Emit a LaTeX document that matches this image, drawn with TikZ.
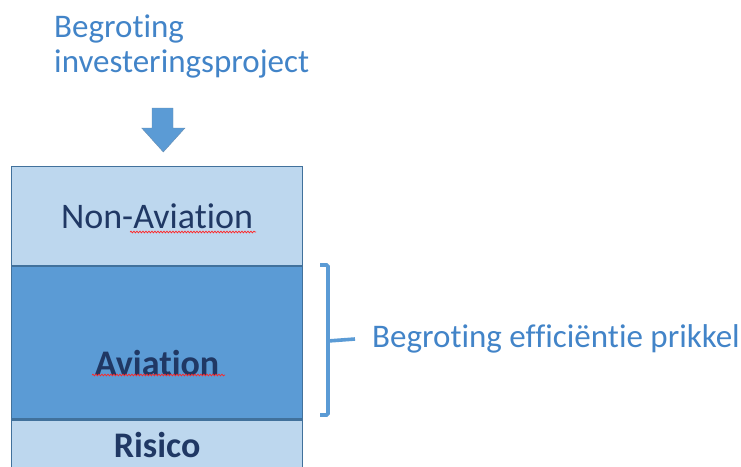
\documentclass[tikz,border=0pt]{standalone}
\usepackage{fontspec}
\setmainfont{Carlito}[Ligatures=NoCommon]
\usetikzlibrary{positioning,decorations.pathmorphing}

\definecolor{titleblue}{RGB}{66,132,200}
\definecolor{lightfill}{RGB}{189,215,238}
\definecolor{midfill}{RGB}{91,155,213}
\definecolor{boxborder}{RGB}{65,113,156}
\definecolor{darktext}{RGB}{32,56,100}

\tikzset{
    layer/.style={draw=boxborder, line width=1.2pt, minimum width=291pt, inner sep=0pt, anchor=north west},
    boxtext/.style={text=darktext, inner sep=0pt, font=\fontsize{36}{40}\selectfont},
    bluetext/.style={text=titleblue, inner sep=0pt, font=\fontsize{33}{35}\selectfont},
    squiggle/.style={red!85, line width=0.7pt, decorate, decoration={snake, amplitude=0.9pt, segment length=3pt}}
}

\begin{document}
\begin{tikzpicture}[x=1pt, y=-1pt]
        \useasboundingbox (0,0) rectangle (741,466);

        % Budget of the investment project
        \node[bluetext, anchor=north west, align=left] (budget) at (54,15) {Begroting\\investeringsproject};

        % Block arrow down
        \fill[midfill, draw=boxborder!80, line width=0.4pt]
            (152,108) -- (173,108) -- (173,128) -- (185,128) -- (163.3,152)
            -- (141.7,128) -- (152,128) -- cycle;

        % Stacked layers
        \node[layer, fill=lightfill, minimum height=99pt] (nonaviation) at (11,166) {};
        \node[layer, fill=midfill, minimum height=152pt] (aviation) at (nonaviation.south west) {};
        \node[layer, fill=lightfill, minimum height=60pt] (risico) at (aviation.south west) {};

        % Labels for layers
        \node[boxtext] (nonavlabel) at (nonaviation.center) {Non-Aviation};
        \node[boxtext, font=\fontsize{36}{40}\selectfont\bfseries] (avlabel) at ([yshift=-20pt]aviation.center) {Aviation};
        \node[boxtext, font=\fontsize{36}{40}\selectfont\bfseries] (risicolabel) at ([yshift=-26pt]risico.north) {Risico};

        % Spelling marks
        \draw[squiggle] (130,232) -- (256,232);
        \draw[squiggle] (92,375) -- (225,375);

        % Bracket next to Aviation
        \coordinate (brtop) at (320,265);
        \coordinate (brbot) at (320,415);
        \coordinate (brmid) at (328,341);
        \draw[midfill, line width=3.6pt, rounded corners=1.5pt]
            (brtop) -- ++(8,0) -- ++(0,150) -- (brbot);
        \node[bluetext, anchor=west] (incentive) at (372,339) {Begroting efficiëntie prikkel};
        \draw[midfill, line width=3.6pt] (brmid) -- ([xshift=-17pt]incentive.west);
    \end{tikzpicture}
\end{document}
